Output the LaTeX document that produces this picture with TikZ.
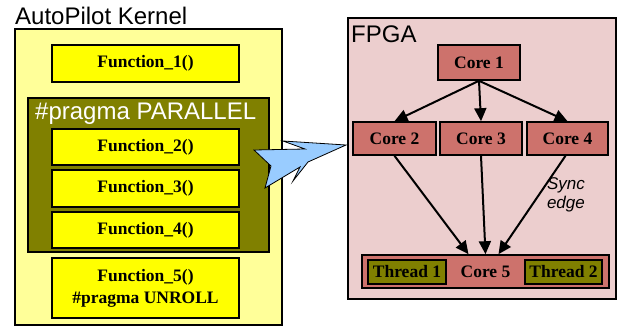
\documentclass[tikz,border=0pt]{standalone}
\usepackage{fontspec}
\setmainfont{Liberation Serif}
\setsansfont{Liberation Sans}
\usetikzlibrary{arrows.meta}
\definecolor{kernelyellow}{RGB}{255,255,153}
\definecolor{funcyellow}{RGB}{255,255,0}
\definecolor{paraolive}{RGB}{128,128,0}
\definecolor{fpgapink}{RGB}{236,206,206}
\definecolor{corered}{RGB}{205,114,108}
\definecolor{arrowblue}{RGB}{153,204,255}
\begin{document}
\begin{tikzpicture}[x=1pt,y=-1pt]
\useasboundingbox (0,0) rectangle (620,326);

        % containers
        \begin{scope}[every node/.style={draw,line width=1.2pt,inner sep=0pt}]
          \node[fill=kernelyellow,minimum width=267pt,minimum height=296pt] (kernel) at (148.5,177) {};
          \node[fill=fpgapink,minimum width=268pt,minimum height=281pt] (fpga) at (482,158.5) {};
          \node[fill=paraolive,minimum width=241pt,minimum height=154pt] (par) at (148.5,175) {};
        \end{scope}

        \begin{scope}[every node/.style={font=\sffamily\fontsize{24}{27}\selectfont,inner sep=0pt,anchor=base west}]
          \node (kerneltitle) at (15,25) {AutoPilot Kernel};
          \node[text=white] (partitle) at (35,119) {\#pragma PARALLEL};
          \node (fpgatitle) at (351,43) {FPGA};
        \end{scope}

        % functions
        \begin{scope}[every node/.style={draw,fill=funcyellow,line width=1.6pt,inner sep=0pt,
            minimum width=187pt,align=center,font=\bfseries\fontsize{17.5}{22}\selectfont}]
          \node[minimum height=37pt] (f1) at (145.5,63.5) {Function\_1()};
          \node[minimum height=36pt] (f2) at (145.5,147) {Function\_2()};
          \node[minimum height=37pt] (f3) at (145.5,188.5) {Function\_3()};
          \node[minimum height=36pt] (f4) at (145.5,230) {Function\_4()};
          \node[minimum height=60pt] (f5) at (145.5,288) {Function\_5()\\\#pragma UNROLL};
        \end{scope}

        % cores
        \begin{scope}[every node/.style={draw,fill=corered,line width=1.6pt,inner sep=0pt,
            font=\bfseries\fontsize{17.5}{20}\selectfont}]
          \node[minimum width=82pt,minimum height=35pt] (c1) at (479,62.5) {Core 1};
          \node[minimum width=83pt,minimum height=33pt] (c2) at (394.5,138.5) {Core 2};
          \node[minimum width=82pt,minimum height=33pt] (c3) at (481,138.5) {Core 3};
          \node[minimum width=81pt,minimum height=33pt] (c4) at (567.5,138.5) {Core 4};
          \node[minimum width=247pt,minimum height=33pt] (c5) at (485.5,271.5) {Core 5};
          \node[fill=paraolive,minimum width=78pt,minimum height=24pt] (t1) at (407,272) {Thread 1};
          \node[fill=paraolive,minimum width=77pt,minimum height=24pt] (t2) at (563.5,272) {Thread 2};
        \end{scope}

        % edges
        \begin{scope}[every edge/.style={draw,line width=2pt,-{Triangle[length=13pt,width=12pt]}}]
          \path (c1.south) edge (c2.north);
          \path (c1.south) edge (c3.north);
          \path (c1.south) edge (c4.north);
          \path (c2.south) edge ([xshift=-17pt]c5.north);
          \path (c3.south) edge (c5.north);
          \path ([xshift=-2pt]c4.south) edge node[right,pos=0.4,xshift=4pt,align=center,
              font=\sffamily\itshape\fontsize{17}{19}\selectfont] (synclabel) {Sync\\edge}
            ([xshift=13pt]c5.north);
        \end{scope}

        % mapping arrow
        \draw[fill=arrowblue,line width=0.8pt,line join=miter]
          (254,150) -- (305,149) -- (283,141) -- (346,145) -- (308,162) -- (293,181)
          -- (300,167) -- (265,188) -- (271,166) -- cycle;

\end{tikzpicture}
\end{document}
